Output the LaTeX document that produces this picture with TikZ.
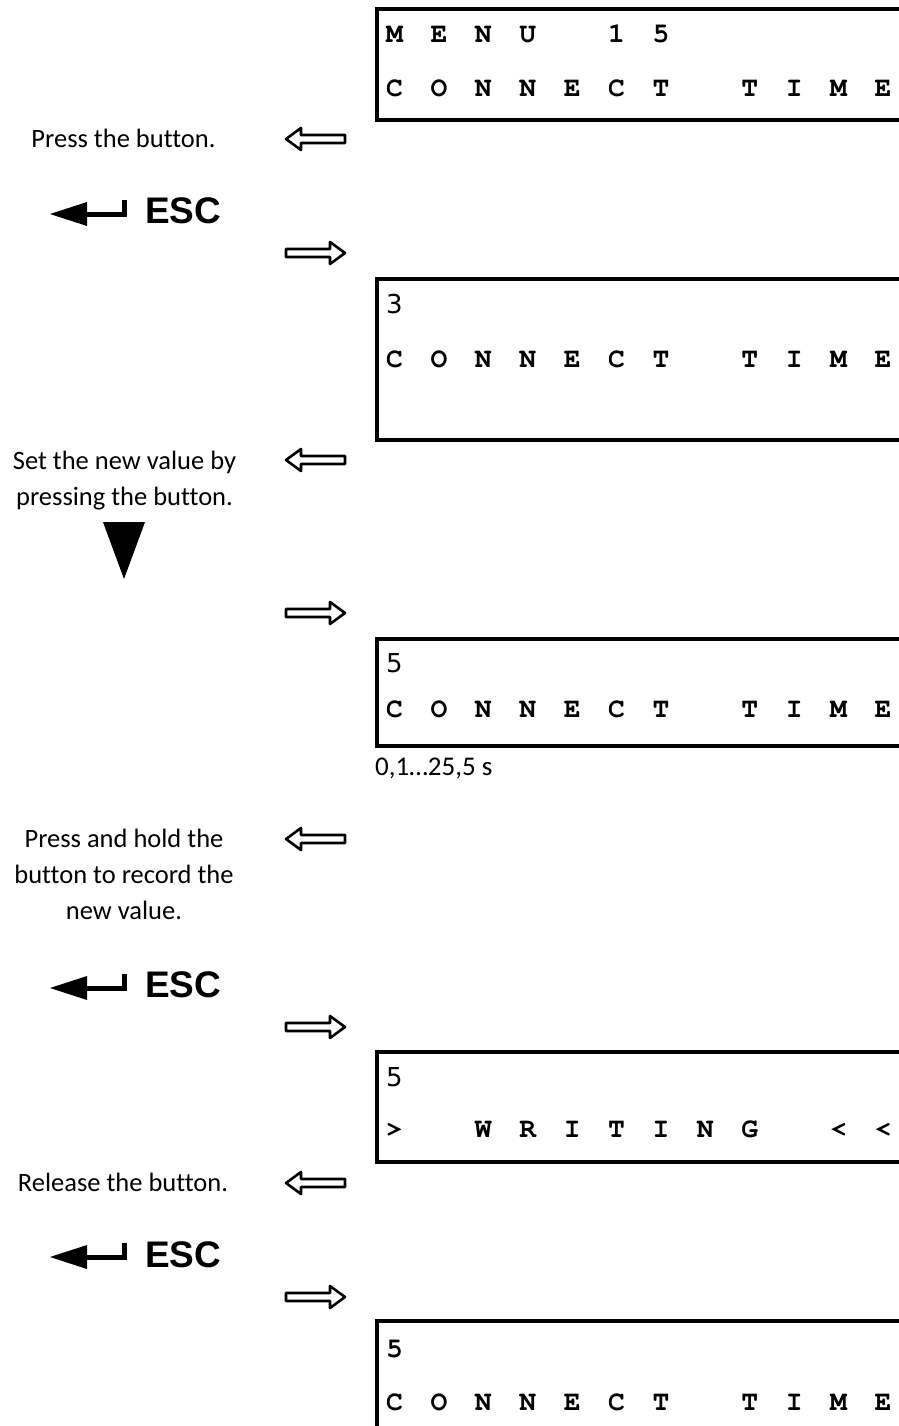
\documentclass[tikz,border=0pt]{standalone}
\usepackage{fontspec}
\usepackage[T1,TU]{fontenc}
\setmainfont{Carlito}[Ligatures=NoCommon]
\newfontfamily\escfont{Liberation Sans}
\newfontfamily\digitfont{DejaVu Sans}
\newcommand\lcdfont{\fontencoding{T1}\fontfamily{pcr}\fontseries{b}\fontshape{n}\fontsize{28}{28}\selectfont}
% one display character per slot, a dot leaves the slot empty
\newcommand\lcd[1]{\lcdslot#1\relax}
\def\lcdslot#1{\ifx#1\relax\else\makebox[44.4pt][l]{\ifx.#1\else#1\fi}\expandafter\lcdslot\fi}
\tikzset{
    %Define style for display frames
    lcd/.style={line width=4pt},
    %Define style for display text
    lcdrow/.style={
           anchor=base west,
           inner sep=0pt,
           font=\lcdfont},
    numrow/.style={
           anchor=base west,
           inner sep=0pt,
           font=\digitfont\fontsize{26}{26}\selectfont},
    %Define style for the instructions
    note/.style={
           anchor=base,
           align=center,
           inner sep=0pt,
           font=\fontsize{26.5}{36}\selectfont},
    esc/.style={
           anchor=base west,
           inner sep=0pt,
           font=\escfont\bfseries\fontsize{37}{37}\selectfont},
    % Define hollow arrow style
    hollow/.style={
           draw=black,
           line width=2.6pt,
           line join=round,
           fill=white}
}
\begin{document}
\begin{tikzpicture}[x=1pt,y=-1pt]
\useasboundingbox (0,0) rectangle (898,1426);
% screen 1
\draw[lcd] (905,9.5) -| (377,120.5) -- (905,120.5);
\node[lcdrow](menu) at (386,43) {\lcd{MENU.15}};
\node[lcdrow](name1) at (386,97) {\lcd{CONNECT.TIME}};
% step 1
\node[note](step1) at (123.5,147) {Press the button.};
\draw[hollow] (286,139) -- ++(15,-11) -- ++(0,7) -- ++(44,0) -- ++(0,8) -- ++(-44,0) -- ++(0,7) -- cycle;
\fill (50,214) -- (87,202) -- (87,226) -- cycle;
\draw[line width=5pt] (86,214.5) -| (124.5,200);
\node[esc](esc1) at (145,223) {ESC};
\draw[hollow] (345,253) -- ++(-15,-11) -- ++(0,7) -- ++(-44,0) -- ++(0,8) -- ++(44,0) -- ++(0,7) -- cycle;
% screen 2
\draw[lcd] (905,279) -| (377,440) -- (905,440);
\node[numrow](val1) at (386,313) {3};
\node[lcdrow](name2) at (386,367) {\lcd{CONNECT.TIME}};
% step 2 (base = last line)
\node[note](step2) at (124.5,505) {Set the new value by\\pressing the button.};
\draw[hollow] (286,460) -- ++(15,-11) -- ++(0,7) -- ++(44,0) -- ++(0,8) -- ++(-44,0) -- ++(0,7) -- cycle;
\fill (103,522) -- (145,522) -- (124,579) -- cycle;
\draw[hollow] (345,613) -- ++(-15,-11) -- ++(0,7) -- ++(-44,0) -- ++(0,8) -- ++(44,0) -- ++(0,7) -- cycle;
% screen 3
\draw[lcd] (905,639) -| (377,746) -- (905,746);
\node[numrow](val2) at (386,672) {5};
\node[lcdrow](name3) at (386,717) {\lcd{CONNECT.TIME}};
\node[anchor=base west,inner sep=0pt,font=\fontsize{27}{27}\selectfont](range) at (375,775) {0,1…25,5 s};
% step 3
\node[note](step3) at (124,919) {Press and hold the\\button to record the\\new value.};
\draw[hollow] (286,839) -- ++(15,-11) -- ++(0,7) -- ++(44,0) -- ++(0,8) -- ++(-44,0) -- ++(0,7) -- cycle;
\fill (50,988) -- (87,976) -- (87,1000) -- cycle;
\draw[line width=5pt] (86,988.5) -| (124.5,974);
\node[esc](esc2) at (145,997) {ESC};
\draw[hollow] (345,1027) -- ++(-15,-11) -- ++(0,7) -- ++(-44,0) -- ++(0,8) -- ++(44,0) -- ++(0,7) -- cycle;
% screen 4
\draw[lcd] (905,1052) -| (377,1162) -- (905,1162);
\node[numrow](val3) at (386,1086) {5};
\node[lcdrow](writing) at (386,1137) {\lcd{>.WRITING.<<}};
% step 4
\node[note](step4) at (123,1191) {Release the button.};
\draw[hollow] (286,1183) -- ++(15,-11) -- ++(0,7) -- ++(44,0) -- ++(0,8) -- ++(-44,0) -- ++(0,7) -- cycle;
\fill (50,1257) -- (87,1245) -- (87,1269) -- cycle;
\draw[line width=5pt] (86,1257.5) -| (124.5,1243);
\node[esc](esc3) at (145,1267) {ESC};
\draw[hollow] (345,1297) -- ++(-15,-11) -- ++(0,7) -- ++(-44,0) -- ++(0,8) -- ++(44,0) -- ++(0,7) -- cycle;
% screen 5
\draw[lcd] (905,1321) -| (377,1445) -- (905,1445);
\node[lcdrow](val4) at (386,1357) {5};
\node[lcdrow](name4) at (386,1410) {\lcd{CONNECT.TIME}};
\end{tikzpicture}
\end{document}
